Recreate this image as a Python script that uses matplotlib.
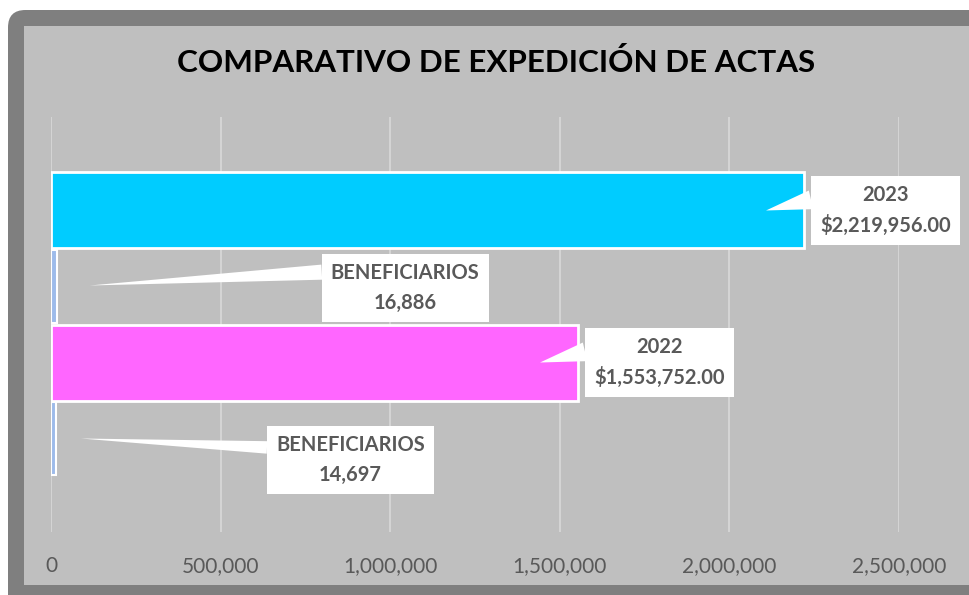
import matplotlib
matplotlib.use("Agg")
import matplotlib.pyplot as plt
from matplotlib.patches import FancyBboxPatch, Rectangle
from matplotlib.transforms import offset_copy
from matplotlib.ticker import FuncFormatter

plt.rcParams['font.family'] = ['Lato', 'DejaVu Sans']

# datos
anios = ['2023', '2022']
montos = [2219956.00, 1553752.00]
beneficiarios = [16886, 14697]
xticks = [0, 500000, 1000000, 1500000, 2000000, 2500000]

W, H = 969, 595
fig = plt.figure(figsize=(W / 100, H / 100), dpi=100)
fig.patch.set_facecolor('white')

# marco gris oscuro con esquina redondeada y fondo gris claro
marco = FancyBboxPatch((8 / W, -0.2), 1.2, 1 - 10 / H + 0.2,
                       boxstyle="round,pad=0,rounding_size=0.018",
                       transform=fig.transFigure, fc='#7f7f7f', ec='none',
                       mutation_aspect=W / H, zorder=-2)
fig.patches.append(marco)
fondo = Rectangle((24 / W, 10 / H), 1.0, 1 - 36 / H,
                  transform=fig.transFigure, fc='#bfbfbf', ec='none', zorder=-1)
fig.patches.append(fondo)

ax = fig.add_axes([51 / W, 63 / H, 848 / W, 415 / H])
ax.set_facecolor('none')

# posiciones: monto y beneficiarios de cada año, de arriba abajo
pos = []
for i in range(len(anios)):
    pos.append((2 * i, 2 * i + 1))

for i, anio in enumerate(anios):
    pm, pb = pos[i]
    col = '#00ccff' if anio == '2023' else '#ff66ff'
    ax.barh(pm, montos[i], height=1.0, color=col, edgecolor='white', linewidth=2, zorder=3)
    ax.barh(pb, beneficiarios[i], height=0.95, color='#9dbbea', edgecolor='white', linewidth=1.5, zorder=3)

ax.set_ylim(4.23, -1.23)
ax.set_xlim(0, 2500000)
ax.set_xticks(xticks)
ax.xaxis.set_major_formatter(FuncFormatter(lambda v, p: f'{v:,.0f}'))
ax.set_yticks([])
ax.grid(axis='x', color='#d9d9d9', linewidth=1.2, zorder=0)
for s in ax.spines.values():
    s.set_visible(False)
ax.tick_params(axis='x', length=0, pad=17, labelsize=15, labelcolor='#595959')

fs = 14.5
pad = 0.45
caja = dict(boxstyle=f'square,pad={pad}', fc='white', ec='none')
pad_px = pad * fs * 100 / 72


def etiqueta(valor, y, texto, dx_tip, dy_tip, dx_caja, dy_caja, rely, tw):
    tip = offset_copy(ax.transData, fig=fig, x=dx_tip, y=dy_tip, units='dots')
    txt = offset_copy(ax.transData, fig=fig, x=dx_caja + pad_px, y=dy_caja, units='dots')
    ax.annotate(texto, xy=(valor, y), xycoords=tip, xytext=(valor, y), textcoords=txt,
                ha='left', va='center', multialignment='center', fontsize=fs,
                fontweight='bold', color='#595959', linespacing=1.6, bbox=caja,
                annotation_clip=False, zorder=5,
                arrowprops=dict(arrowstyle=f'wedge,tail_width={tw}', fc='white',
                                ec='none', relpos=(0, rely), shrinkA=0, shrinkB=0))


for i, anio in enumerate(anios):
    pm, pb = pos[i]
    etiqueta(montos[i], pm, f'{anio}\n${montos[i]:,.2f}', -38, 0, 7, 0, 0.75, 0.95)

etiqueta(beneficiarios[0], pos[0][1], f'BENEFICIARIOS\n{beneficiarios[0]:,}', 33, 1, 265, -1.5, 0.83, 0.75)
etiqueta(beneficiarios[1], pos[1][1], f'BENEFICIARIOS\n{beneficiarios[1]:,}', 25, 0, 211, -21.5, 0.745, 0.62)

fig.text(496 / W, 1 - 62 / H, 'COMPARATIVO DE EXPEDICIÓN DE ACTAS', ha='center', va='center',
         fontsize=22.6, fontweight='bold', color='black')

fig.savefig('out.png', dpi=100)
